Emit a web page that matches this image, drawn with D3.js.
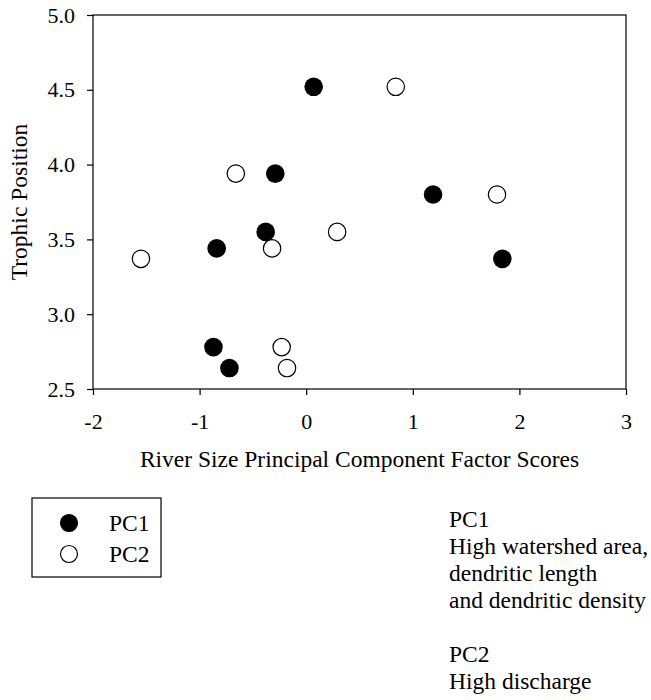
<!DOCTYPE html>
<html>
<head>
<meta charset="utf-8">
<script src="https://cdn.jsdelivr.net/npm/d3@7"></script>
<style>
  body { margin: 0; background: #fff; }
  text { font-family: "Liberation Serif", "Times New Roman", serif; fill: #000; }
</style>
</head>
<body>
<div id="chart"></div>
<script>
// data
var pc1X = [0.07, -0.29, -0.38, -0.84, -0.87, -0.72, 1.19, 1.84];
var pc2X = [0.84, -0.66, 0.29, -0.32, -1.55, -0.23, -0.18, 1.79];
var pc1Y = [4.52, 3.94, 3.55, 3.44, 2.78, 2.64, 3.80, 3.37];
var pc2Y = [4.52, 3.94, 3.55, 3.44, 3.37, 2.78, 2.64, 3.80];
var xTicks = [-2, -1, 0, 1, 2, 3];
var yTicks = [2.5, 3.0, 3.5, 4.0, 4.5, 5.0];
var legendLabels = ["PC1", "PC2"];
var noteLines = ["PC1", "High watershed area,", "dendritic length", "and dendritic density", "", "PC2", "High discharge"];

var W = 651, H = 700;
var margin = {top: 15, right: 25, bottom: 311, left: 93};
var width = W - margin.left - margin.right,
    height = H - margin.top - margin.bottom;

var svg = d3.select("#chart").append("svg")
    .attr("width", W)
    .attr("height", H);

var g = svg.append("g")
    .attr("transform", "translate(" + margin.left + "," + margin.top + ")");

var x = d3.scaleLinear().domain([-2, 3]).range([0, width]);
var y = d3.scaleLinear().domain([2.5, 5.0]).range([height, 0]);

// plain hyphen for negatives, like the original
var fmtX = function(d) { return String(d); };

// frame
g.append("rect")
    .attr("width", width)
    .attr("height", height)
    .attr("fill", "none")
    .attr("stroke", "#000")
    .attr("stroke-width", 1.2);

// x axis
var xAxis = g.append("g")
    .attr("transform", "translate(0," + height + ")")
    .call(d3.axisBottom(x).tickValues(xTicks).tickSize(6).tickPadding(18).tickFormat(fmtX));
xAxis.select(".domain").remove();
xAxis.selectAll("line").attr("stroke-width", 1.2);
xAxis.selectAll("text").style("font-size", "22px").style("font-family", "Liberation Serif");

// y axis
var yAxis = g.append("g")
    .call(d3.axisLeft(y).tickValues(yTicks).tickSize(6).tickPadding(12).tickFormat(d3.format(".1f")));
yAxis.select(".domain").remove();
yAxis.selectAll("line").attr("stroke-width", 1.2);
yAxis.selectAll("text").style("font-size", "22px").style("font-family", "Liberation Serif");

// axis titles
g.append("text")
    .attr("x", width / 2)
    .attr("y", height + 78)
    .attr("text-anchor", "middle")
    .style("font-size", "23.5px")
    .text("River Size Principal Component Factor Scores");

g.append("text")
    .attr("transform", "rotate(-90)")
    .attr("x", -height / 2)
    .attr("y", -66)
    .attr("text-anchor", "middle")
    .style("font-size", "23.5px")
    .text("Trophic Position");

// points
var pc1 = pc1X.map(function(v, i) { return {x: v, y: pc1Y[i]}; });
var pc2 = pc2X.map(function(v, i) { return {x: v, y: pc2Y[i]}; });

g.selectAll("circle.pc2")
    .data(pc2)
    .enter().append("circle")
    .attr("class", "pc2")
    .attr("cx", function(d) { return x(d.x); })
    .attr("cy", function(d) { return y(d.y); })
    .attr("r", 8.7)
    .attr("fill", "#fff")
    .attr("stroke", "#000")
    .attr("stroke-width", 1.2);

g.selectAll("circle.pc1")
    .data(pc1)
    .enter().append("circle")
    .attr("class", "pc1")
    .attr("cx", function(d) { return x(d.x); })
    .attr("cy", function(d) { return y(d.y); })
    .attr("r", 9.3)
    .attr("fill", "#000");

// legend
var legend = svg.append("g").attr("transform", "translate(32,498)");
legend.append("rect")
    .attr("width", 129)
    .attr("height", 79)
    .attr("fill", "none")
    .attr("stroke", "#000")
    .attr("stroke-width", 1.2);
legendLabels.forEach(function(lab, i) {
    legend.append("circle")
        .attr("cx", 37)
        .attr("cy", 25 + i * 31)
        .attr("r", 8.5)
        .attr("fill", i == 0 ? "#000" : "#fff")
        .attr("stroke", "#000")
        .attr("stroke-width", 1.2);
    legend.append("text")
        .attr("x", 77)
        .attr("y", 33 + i * 31)
        .style("font-size", "23.5px")
        .text(lab);
});

// note text on the right
var notes = svg.append("text")
    .attr("x", 449)
    .attr("y", 527)
    .style("font-size", "23.5px");
noteLines.forEach(function(line, i) {
    notes.append("tspan")
        .attr("x", 449)
        .attr("dy", i == 0 ? 0 : 27)
        .text(line === "" ? "\u00a0" : line);
});
</script>
</body>
</html>
